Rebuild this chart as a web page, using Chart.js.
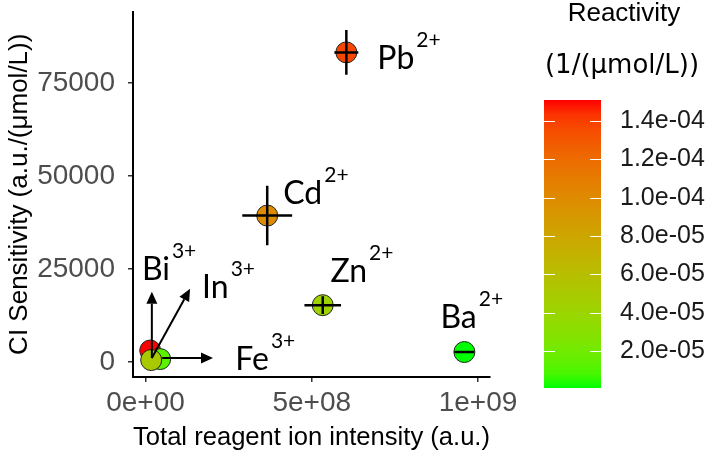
<!DOCTYPE html>
<html>
<head>
<meta charset="utf-8">
<script src="https://cdn.jsdelivr.net/npm/chart.js@4.4.1/dist/chart.umd.min.js"></script>
<style>
  html, body { margin: 0; padding: 0; background: #fff; }
  #wrap { position: relative; width: 712px; height: 457px; }
  #main { position: absolute; left: 0; top: 0; }
  #bar { position: absolute; left: 500px; top: 0; }
</style>
</head>
<body>
<div id="wrap">
  <canvas id="main" width="712" height="457"></canvas>
  <canvas id="bar" width="212" height="457"></canvas>
</div>
<script>
// donnees (ordre = ordre de dessin)
const ions = ["Bi", "Fe", "In", "Pb", "Cd", "Zn", "Ba"];
const charges = ["3+", "3+", "3+", "2+", "2+", "2+", "2+"];
const intensity = [0.014e9, 0.044e9, 0.017e9, 0.604e9, 0.366e9, 0.533e9, 0.959e9];
const intensityErr = [0, 0, 0, 0.036e9, 0.075e9, 0.055e9, 0.03e9];
const sensitivity = [3100, 800, 540, 83300, 39400, 15300, 2700];
const sensitivityErr = [0, 0, 0, 6000, 8000, 2400, 0];
const reactivity = [1.51e-4, 1.2e-5, 5.0e-5, 1.38e-4, 1.0e-4, 4.2e-5, 7e-7];

const xTicks = [0, 5e8, 1e9];
const yTicks = [0, 25000, 50000, 75000];
const colourTicks = [2e-5, 4e-5, 6e-5, 8e-5, 1e-4, 1.2e-4, 1.4e-4];

// fleches et etiquettes (coordonnees dans l'espace des donnees)
const arrows = [
  { from: [0.019e9, 1070], to: [0.019e9, 18900] },
  { from: [0.019e9, 1070], to: [0.134e9, 19700] },
  { from: [0.05e9, 1070], to: [0.203e9, 1070] },
];
const labelSpots = [
  [-0.011e9, 21970], [0.27e9, -2140], [0.17e9, 17140],
  [0.697e9, 78760], [0.414e9, 42600], [0.556e9, 21430], [0.887e9, 9100],
];

const axisFont = "'Liberation Sans', Arial, sans-serif";
const labelFont = "Lato, 'Open Sans', sans-serif";

// Format "5e+08" / "1.4e-04"
function sciLabel(v, digits) {
  const [m, e] = Number(v).toExponential(digits).split("e");
  const n = parseInt(e, 10);
  return m + "e" + (n < 0 ? "-" : "+") + String(Math.abs(n)).padStart(2, "0");
}

// Degrade vert -> rouge dans l'espace Lab (comme ggplot)
const WHITE = [0.95047, 1, 1.08883];
function toLinear(c) {
  c /= 255;
  return c <= 0.04045 ? c / 12.92 : Math.pow((c + 0.055) / 1.055, 2.4);
}
function fromLinear(c) {
  c = c <= 0.0031308 ? 12.92 * c : 1.055 * Math.pow(c, 1 / 2.4) - 0.055;
  return Math.round(Math.min(1, Math.max(0, c)) * 255);
}
function rgbToLab([r, g, b]) {
  const R = toLinear(r), G = toLinear(g), B = toLinear(b);
  const x = (0.4124 * R + 0.3576 * G + 0.1805 * B) / WHITE[0];
  const y = (0.2126 * R + 0.7152 * G + 0.0722 * B) / WHITE[1];
  const z = (0.0193 * R + 0.1192 * G + 0.9505 * B) / WHITE[2];
  const f = t => (t > 0.008856 ? Math.cbrt(t) : 7.787 * t + 16 / 116);
  return [116 * f(y) - 16, 500 * (f(x) - f(y)), 200 * (f(y) - f(z))];
}
function labToRgb([L, a, b]) {
  const fy = (L + 16) / 116, fx = fy + a / 500, fz = fy - b / 200;
  const inv = t => (t ** 3 > 0.008856 ? t ** 3 : (t - 16 / 116) / 7.787);
  const x = inv(fx) * WHITE[0], y = inv(fy) * WHITE[1], z = inv(fz) * WHITE[2];
  const R = 3.2406 * x - 1.5372 * y - 0.4986 * z;
  const G = -0.9689 * x + 1.8758 * y + 0.0415 * z;
  const B = 0.0557 * x - 0.204 * y + 1.057 * z;
  return `rgb(${fromLinear(R)}, ${fromLinear(G)}, ${fromLinear(B)})`;
}
const lowLab = rgbToLab([0, 255, 0]);
const highLab = rgbToLab([255, 0, 0]);
const cMin = Math.min(...reactivity);
const cMax = Math.max(...reactivity);
function colourFor(v) {
  const t = (v - cMin) / (cMax - cMin);
  return labToRgb(lowLab.map((l, i) => l + (highLab[i] - l) * t));
}

// Barres d'erreur
const errorBars = {
  id: "errorBars",
  afterDatasetsDraw(chart) {
    const { ctx, scales: { x, y } } = chart;
    ctx.save();
    ctx.strokeStyle = "#000";
    ctx.lineWidth = 2.5;
    intensity.forEach((v, i) => {
      const px = x.getPixelForValue(v);
      const py = y.getPixelForValue(sensitivity[i]);
      ctx.beginPath();
      if (intensityErr[i] > 0) {
        ctx.moveTo(x.getPixelForValue(v - intensityErr[i]), py);
        ctx.lineTo(x.getPixelForValue(v + intensityErr[i]), py);
      }
      if (sensitivityErr[i] > 0) {
        ctx.moveTo(px, y.getPixelForValue(sensitivity[i] - sensitivityErr[i]));
        ctx.lineTo(px, y.getPixelForValue(sensitivity[i] + sensitivityErr[i]));
      }
      ctx.stroke();
    });
    ctx.restore();
  },
};

// Fleches + noms des ions
const ionLabels = {
  id: "ionLabels",
  afterDraw(chart) {
    const { ctx, scales: { x, y } } = chart;
    ctx.save();
    ctx.strokeStyle = "#000";
    ctx.fillStyle = "#000";
    ctx.lineWidth = 2;
    arrows.forEach(a => {
      const x0 = x.getPixelForValue(a.from[0]), y0 = y.getPixelForValue(a.from[1]);
      const x1 = x.getPixelForValue(a.to[0]), y1 = y.getPixelForValue(a.to[1]);
      const ang = Math.atan2(y1 - y0, x1 - x0);
      const len = 12, half = 5.5;
      const bx = x1 - len * Math.cos(ang), by = y1 - len * Math.sin(ang);
      ctx.beginPath();
      ctx.moveTo(x0, y0);
      ctx.lineTo(bx, by);
      ctx.stroke();
      ctx.beginPath();
      ctx.moveTo(x1, y1);
      ctx.lineTo(bx + half * Math.sin(ang), by - half * Math.cos(ang));
      ctx.lineTo(bx - half * Math.sin(ang), by + half * Math.cos(ang));
      ctx.closePath();
      ctx.fill();
    });
    ctx.textBaseline = "alphabetic";
    ctx.textAlign = "left";
    ions.forEach((name, i) => {
      const px = x.getPixelForValue(labelSpots[i][0]);
      const py = y.getPixelForValue(labelSpots[i][1]);
      ctx.font = `32px ${labelFont}`;
      ctx.fillText(name, px, py);
      const w = ctx.measureText(name).width;
      ctx.font = `21px ${labelFont}`;
      ctx.fillText(charges[i], px + w + 2, py - 22);
    });
    ctx.restore();
  },
};

const points = intensity.map((v, i) => ({ x: v, y: sensitivity[i] }));

new Chart("main", {
  type: "scatter",
  data: {
    datasets: [{
      data: points,
      pointRadius: 10.5,
      pointHoverRadius: 10.5,
      pointBackgroundColor: reactivity.map(colourFor),
      pointBorderColor: "#222",
      pointBorderWidth: 1,
    }],
  },
  options: {
    responsive: false,
    animation: false,
    events: [],
    layout: { padding: { top: 10, right: 222 } },
    plugins: { legend: { display: false }, tooltip: { enabled: false } },
    scales: {
      x: {
        type: "linear",
        min: -0.0377e9,
        max: 1.0361e9,
        afterBuildTicks: s => { s.ticks = xTicks.map(v => ({ value: v })); },
        afterFit: s => { s.height = 80; s.paddingLeft = 0; s.paddingRight = 0; },
        ticks: {
          callback: v => sciLabel(v, 0),
          font: { family: axisFont, size: 28 },
          color: "#4d4d4d",
          padding: 4,
          maxRotation: 0,
          autoSkip: false,
        },
        grid: { drawOnChartArea: false, tickLength: 5, color: "#333", lineWidth: 1.5 },
        border: { color: "#000", width: 2 },
        title: {
          display: true,
          text: "Total reagent ion intensity (a.u.)",
          font: { family: axisFont, size: 26 },
          color: "#000",
          padding: { top: 0, bottom: 4 },
        },
      },
      y: {
        type: "linear",
        min: -4020,
        max: 94300,
        afterBuildTicks: s => { s.ticks = yTicks.map(v => ({ value: v })); },
        afterFit: s => { s.width = 133; s.paddingTop = 0; s.paddingBottom = 0; },
        ticks: {
          callback: v => String(v),
          font: { family: axisFont, size: 28 },
          color: "#4d4d4d",
          padding: 13,
          autoSkip: false,
        },
        grid: { drawOnChartArea: false, tickLength: 5, color: "#333", lineWidth: 1.5 },
        border: { color: "#000", width: 2 },
        title: {
          display: true,
          text: "CI Sensitivity (a.u./(μmol/L))",
          font: { family: axisFont, size: 26 },
          color: "#000",
          padding: { top: 4, bottom: 0 },
        },
      },
    },
  },
  plugins: [errorBars, ionLabels],
});

// Barre de couleur
const colourbarMarks = {
  id: "colourbarMarks",
  afterDatasetsDraw(chart) {
    const { ctx, chartArea: area, scales: { y } } = chart;
    ctx.save();
    ctx.strokeStyle = "#fff";
    ctx.lineWidth = 1;
    colourTicks.forEach(v => {
      const py = Math.round(y.getPixelForValue(v)) + 0.5;
      ctx.beginPath();
      ctx.moveTo(area.left, py);
      ctx.lineTo(area.left + 11, py);
      ctx.moveTo(area.right - 11, py);
      ctx.lineTo(area.right, py);
      ctx.stroke();
    });
    ctx.restore();
  },
  afterDraw(chart) {
    const ctx = chart.ctx;
    ctx.save();
    ctx.fillStyle = "#000";
    ctx.textAlign = "center";
    ctx.textBaseline = "middle";
    ctx.font = `26px ${axisFont}`;
    ctx.fillText("Reactivity", 124, 14);
    ctx.font = "26px 'DejaVu Sans', sans-serif";
    ctx.fillText("(1/(μmol/L))", 122, 66);
    ctx.restore();
  },
};

new Chart("bar", {
  type: "bar",
  data: {
    labels: [""],
    datasets: [{
      data: [[cMin, cMax]],
      barPercentage: 1,
      categoryPercentage: 1,
      borderWidth: 0,
      backgroundColor(context) {
        const area = context.chart.chartArea;
        if (!area) return null;
        const g = context.chart.ctx.createLinearGradient(0, area.bottom, 0, area.top);
        for (let i = 0; i <= 20; i++) {
          g.addColorStop(i / 20, colourFor(cMin + (cMax - cMin) * i / 20));
        }
        return g;
      },
    }],
  },
  options: {
    responsive: false,
    animation: false,
    events: [],
    layout: { padding: { top: 100, left: 44, bottom: 69 } },
    plugins: { legend: { display: false }, tooltip: { enabled: false } },
    scales: {
      x: { display: false },
      y: {
        position: "right",
        min: cMin,
        max: cMax,
        afterBuildTicks: s => { s.ticks = colourTicks.map(v => ({ value: v })); },
        afterFit: s => { s.width = 111; s.paddingTop = 0; s.paddingBottom = 0; },
        ticks: {
          callback: v => sciLabel(v, 1),
          font: { family: axisFont, size: 25 },
          color: "#1a1a1a",
          padding: 19,
          autoSkip: false,
        },
        grid: { display: false, drawTicks: false },
        border: { display: false },
      },
    },
  },
  plugins: [colourbarMarks],
});
</script>
</body>
</html>
